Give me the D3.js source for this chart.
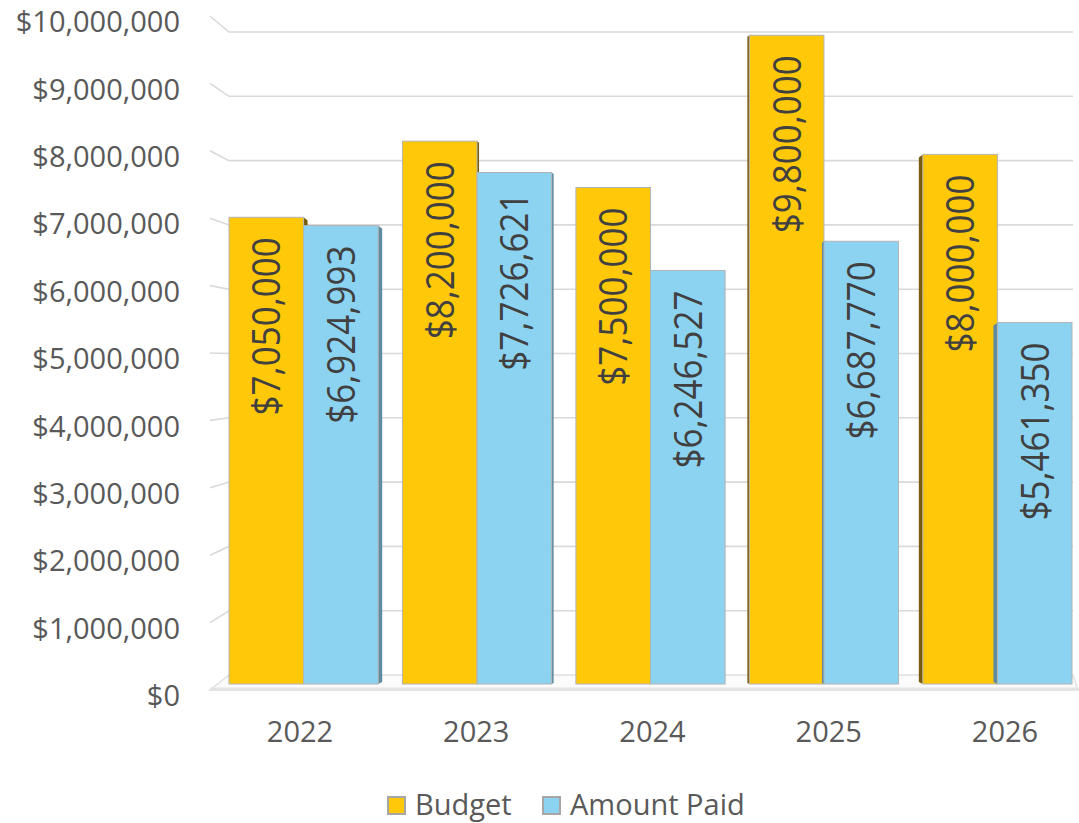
<!DOCTYPE html>
<html>
<head>
<meta charset="utf-8">
<script src="https://cdn.jsdelivr.net/npm/d3@7"></script>
<style>
  body { margin: 0; background: #fff; }
  svg { display: block; font-family: "Open Sans", "Noto Sans", sans-serif; }
</style>
</head>
<body>
<div id="chart"></div>
<script>
var years = ['2022', '2023', '2024', '2025', '2026'];
var budget = [7050000, 8200000, 7500000, 9800000, 8000000];
var amountPaid = [6924993, 7726621, 6246527, 6687770, 5461350];
var seriesNames = ['Budget', 'Amount Paid'];
var yTicks = [0, 1000000, 2000000, 3000000, 4000000, 5000000, 6000000, 7000000, 8000000, 9000000, 10000000];

var W = 1079, H = 823;
var colors = { 'Budget': '#ffc90a', 'Amount Paid': '#8cd3f2' };
var sideColors = { 'Budget': '#7a5a0c', 'Amount Paid': '#5f8aa0' };

var svg = d3.select('#chart').append('svg')
  .attr('width', W).attr('height', H);

// perspective: front edge of side wall, back wall, and the bars plane
var yFront = d3.scaleLinear().domain([0, 10000000]).range([690, 16]);
var yBack = d3.scaleLinear().domain([0, 10000000]).range([675, 32]);
var yBar = d3.scaleLinear().domain([0, 10000000]).range([684, 22]);

var x0 = d3.scaleBand().domain(years).range([229, 1072]).paddingInner(0.14).paddingOuter(0);
var x1 = d3.scaleBand().domain(seriesNames).range([0, x0.bandwidth()]);
var xLabel = d3.scalePoint().domain(years).range([300, 1005]);

var wallLeft = 210, wallBack = 229, wallRight = 1073;

// floor
svg.append('path')
  .attr('d', 'M' + wallLeft + ',' + yFront(0) + 'L' + wallBack + ',' + yBack(0) +
    'L' + wallRight + ',' + yBack(0) + 'L' + (W - 1) + ',' + yFront(0) + 'Z')
  .attr('fill', '#fbfbfb')
  .attr('stroke', '#e0e0e0').attr('stroke-width', 1.5);
svg.append('line')
  .attr('x1', wallLeft).attr('x2', W)
  .attr('y1', yFront(0) - 1).attr('y2', yFront(0) - 1)
  .attr('stroke', '#e3e3e3').attr('stroke-width', 3);

// gridlines
svg.append('g').selectAll('path')
  .data(yTicks.filter(function(d) { return d > 0; }))
  .enter().append('path')
  .attr('d', function(d) {
    return 'M' + wallLeft + ',' + yFront(d) + 'L' + wallBack + ',' + yBack(d) + 'L' + wallRight + ',' + yBack(d);
  })
  .attr('fill', 'none')
  .attr('stroke', '#d9d9d9')
  .attr('stroke-width', 1.6);

// y axis labels
var fmt = d3.format('$,.0f');
svg.append('g').selectAll('text')
  .data(yTicks).enter().append('text')
  .attr('x', 180)
  .attr('y', function(d) { return yFront(d) + 6; })
  .attr('dy', '0.35em')
  .attr('text-anchor', 'end')
  .attr('font-size', 29)
  .attr('fill', '#595959')
  .text(function(d) { return fmt(d); });

// bars
var rows = [];
years.forEach(function(y, i) {
  rows.push({ year: y, i: i, series: 'Budget', value: budget[i] });
  rows.push({ year: y, i: i, series: 'Amount Paid', value: amountPaid[i] });
});

var bars = svg.append('g').selectAll('g.bar')
  .data(rows).enter().append('g').attr('class', 'bar');

bars.each(function(d) {
  var g = d3.select(this);
  var bx = x0(d.year) + x1(d.series);
  var bw = x1.bandwidth();
  var top = yBar(d.value), bottom = yBar(0);
  var side = (2 - d.i) * 2; // positive: right face visible, negative: left face
  if (side !== 0) {
    var ex = side > 0 ? bx + bw : bx;
    var s = Math.abs(side);
    var dir = side > 0 ? 1 : -1;
    g.append('path')
      .attr('d', 'M' + ex + ',' + top + 'L' + (ex + dir * s) + ',' + (top + s * 0.8) +
        'L' + (ex + dir * s) + ',' + (bottom - s * 0.5) + 'L' + ex + ',' + bottom + 'Z')
      .attr('fill', sideColors[d.series]);
  }
  g.append('rect')
    .attr('x', bx).attr('y', top)
    .attr('width', bw).attr('height', bottom - top)
    .attr('fill', colors[d.series])
    .attr('stroke', '#b3b3b3').attr('stroke-width', 1);
});

// data labels
bars.append('text')
  .attr('transform', function(d) {
    var cx = x0(d.year) + x1(d.series) + x1.bandwidth() / 2;
    return 'translate(' + (cx + 14) + ',' + (yBar(d.value) + 20) + ') rotate(-90) scale(1,1.12)';
  })
  .attr('text-anchor', 'end')
  .attr('font-size', 35)
  .attr('fill', '#404040')
  .text(function(d) { return fmt(d.value); });

// x axis labels
svg.append('g').selectAll('text')
  .data(years).enter().append('text')
  .attr('x', function(d) { return xLabel(d); })
  .attr('y', 742)
  .attr('text-anchor', 'middle')
  .attr('font-size', 29)
  .attr('fill', '#595959')
  .text(function(d) { return d; });

// legend
var legendX = [388, 543];
var legend = svg.append('g').selectAll('g')
  .data(seriesNames).enter().append('g')
  .attr('transform', function(d, i) { return 'translate(' + legendX[i] + ',797)'; });
legend.append('rect')
  .attr('width', 17).attr('height', 17)
  .attr('fill', function(d) { return colors[d]; })
  .attr('stroke', '#a6a6a6').attr('stroke-width', 2);
legend.append('text')
  .attr('x', 27).attr('y', 18)
  .attr('font-size', 29)
  .attr('fill', '#595959')
  .text(function(d) { return d; });
</script>
</body>
</html>
